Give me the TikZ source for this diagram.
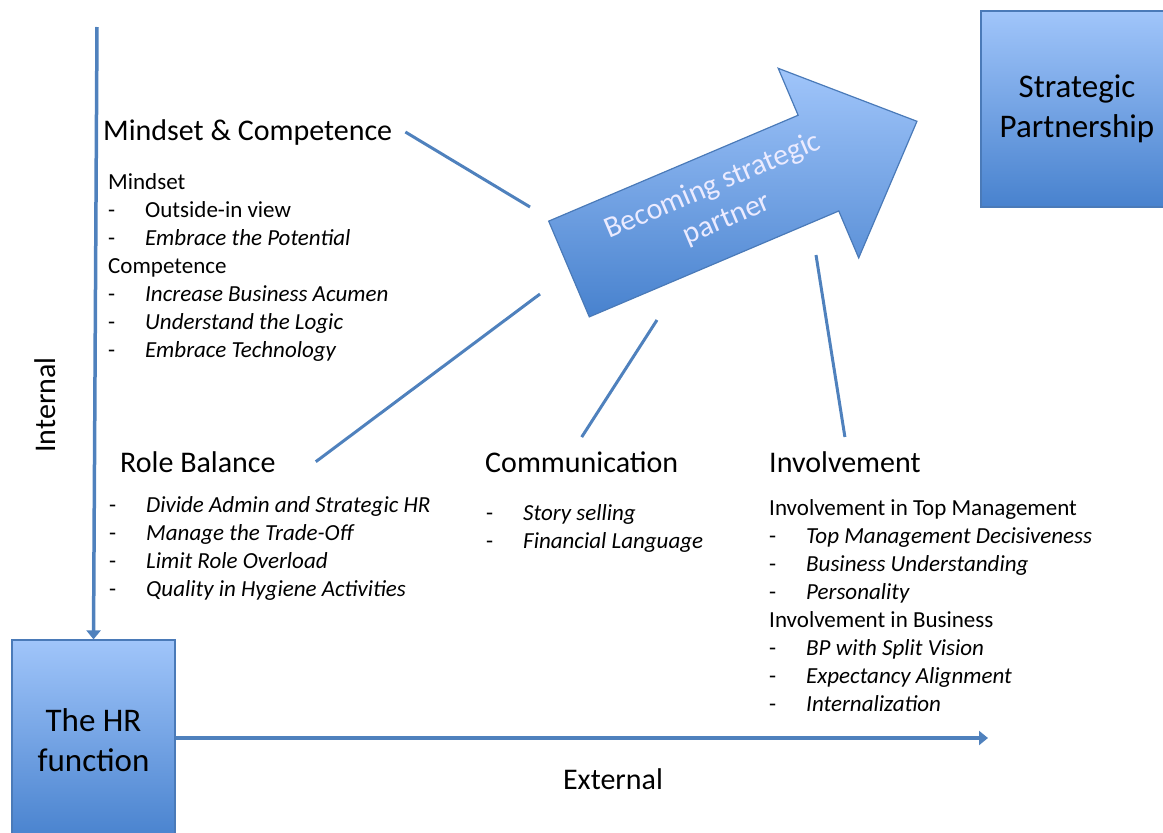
\documentclass[tikz,border=0pt]{standalone}
\usepackage{fontspec}
\setmainfont{Carlito}
\usetikzlibrary{arrows.meta}

\newcommand{\headfont}{\fontsize{30}{36}\selectfont}
\newcommand{\bodyfont}{\fontsize{23}{28}\selectfont}
\newcommand{\boxfont}{\fontsize{33}{40}\selectfont}
\newcommand{\itm}[1]{\makebox[37pt][l]{-}\textit{#1}}
\newcommand{\itmup}[1]{\makebox[37pt][l]{-}#1}

\begin{document}
\begin{tikzpicture}[x=1pt,y=-1pt,
  heading/.style={font=\headfont, inner sep=0pt, anchor=base west},
  itemlist/.style={font=\bodyfont, inner sep=0pt, anchor=base west, align=left},
  bluebox/.style={draw=oborder, line width=1.2pt, top color=otop, bottom color=obottom,
                  font=\boxfont, align=center, inner sep=0pt},
  axisline/.style={line width=3.5pt, color=oline, -{Triangle[width=14pt,length=9pt]}},
  link/.style={line width=3pt, color=oline}]
\definecolor{oline}{RGB}{79,129,189}
\definecolor{oborder}{RGB}{74,122,184}
\definecolor{otop}{RGB}{160,197,250}
\definecolor{obottom}{RGB}{72,130,206}

\useasboundingbox (0,0) rectangle (1163,833);

 % the two boxes
 \node[bluebox, minimum width=163pt, minimum height=200pt] (hr) at (93.5,740) {The HR\\function};
 \node[bluebox, minimum width=192pt, minimum height=196pt] (sp) at (1077,109) {Strategic\\Partnership};

 % axes
 \coordinate (top) at (97,27);
 \coordinate (ext) at (988,738);
 \draw[axisline] (top) -- (hr.north);
 \draw[axisline] (hr.east |- ext) -- (ext);
 \node[font=\headfont, rotate=90] (internal) at (45,405) {Internal};
 \node[font=\headfont] (external) at (613,779) {External};

 % big arrow
 \begin{scope}[shift={(569,269)}, rotate=23]
   \draw[draw=oborder, line width=1.2pt, top color=otop, bottom color=obottom]
     (0,-52) -- (271,-52) -- (271,-103) -- (378,0) -- (271,103) -- (271,52) -- (0,52) -- cycle;
   \node[font=\headfont, color=white!92!blue, align=center, rotate=23] (becoming) at (165,-2)
     {Becoming strategic\\partner};
 \end{scope}

 % Mindset & Competence (lists sit on the baseline of their last line)
 \node[heading] (mc) at (103,140) {Mindset \& Competence};
 \node[itemlist] (mclist) at (108,357) {Mindset\\
   \itmup{Outside-in view}\\
   \itm{Embrace the Potential}\\
   Competence\\
   \itm{Increase Business Acumen}\\
   \itm{Understand the Logic}\\
   \itm{Embrace Technology}};

 % Role Balance
 \node[heading] (rb) at (120,472) {Role Balance};
 \node[itemlist] (rblist) at (109,596) {\itm{Divide Admin and Strategic HR}\\
   \itm{Manage the Trade-Off}\\
   \itm{Limit Role Overload}\\
   \itm{Quality in Hygiene Activities}};

 % Communication
 \node[heading] (cm) at (485,472) {Communication};
 \node[itemlist] (cmlist) at (486,548) {\itm{Story selling}\\
   \itm{Financial Language}};

 % Involvement
 \node[heading] (iv) at (769,472) {Involvement};
 \node[itemlist] (ivlist) at (769,711) {Involvement in Top Management\\
   \itm{Top Management Decisiveness}\\
   \itm{Business Understanding}\\
   \itm{Personality}\\
   Involvement in Business\\
   \itm{BP with Split Vision}\\
   \itm{Expectancy Alignment}\\
   \itm{Internalization}};

 % links to the arrow
 \coordinate (mc-end) at (530,207);
 \coordinate (rb-end) at (540,294);
 \coordinate (cm-end) at (657,320);
 \coordinate (iv-end) at (816,255);
 \draw[link] ([xshift=13pt]mc.east) -- (mc-end);
 \draw[link] ([xshift=40pt]rb.east) -- (rb-end);
 \draw[link] ([yshift=14pt]cm.north) -- (cm-end);
 \draw[link] ([yshift=14pt]iv.north) -- (iv-end);
\end{tikzpicture}
\end{document}
